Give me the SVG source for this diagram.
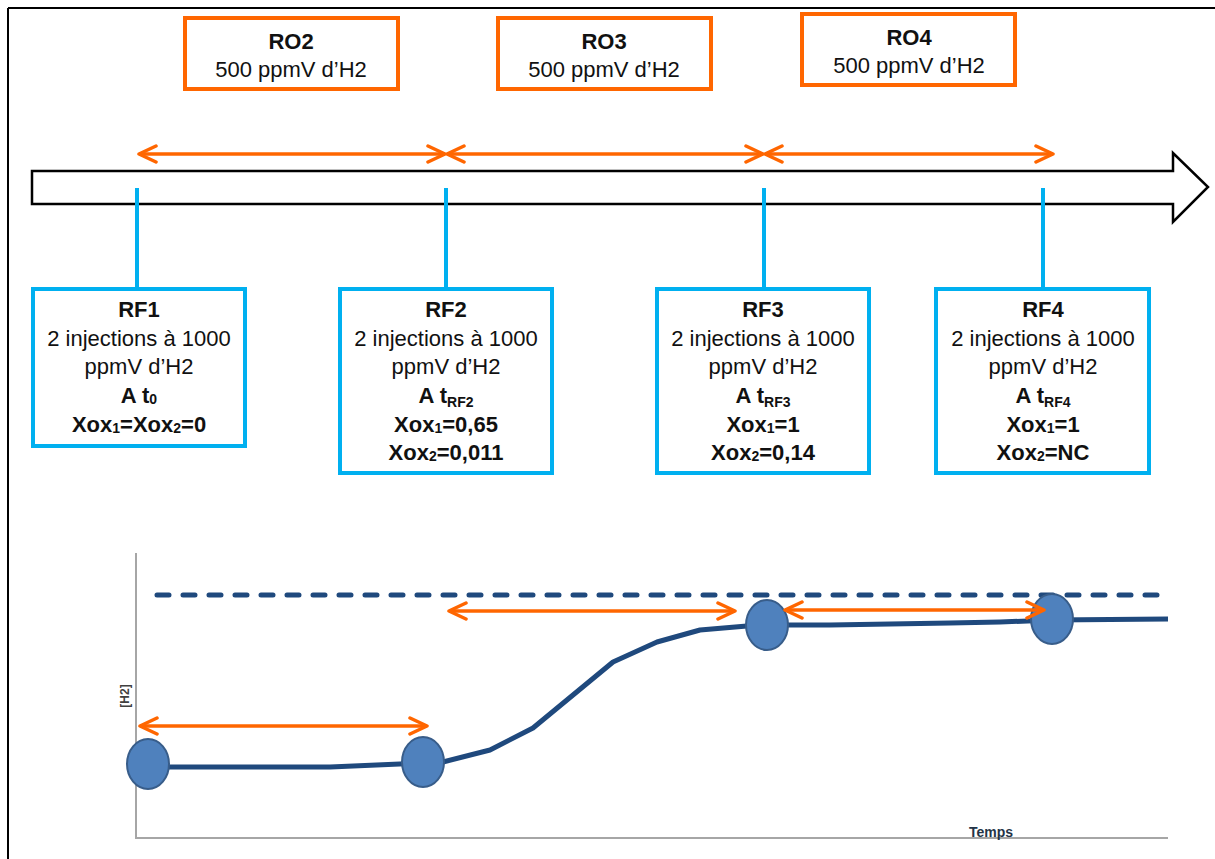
<svg xmlns="http://www.w3.org/2000/svg" width="1215" height="859" viewBox="0 0 1215 859">
<style>
  text { font-family: "Liberation Sans", Arial, sans-serif; fill: #111; text-anchor: middle; }
  .t { font-size: 22px; }
  .b { font-size: 22px; font-weight: bold; }
  .sub { font-size: 14px; }
  .ro { fill: #fff; stroke: #FF6600; stroke-width: 4; }
  .rf { fill: #fff; stroke: #00B0F0; stroke-width: 4; }
  .tick { stroke: #00B0F0; stroke-width: 4; fill: none; }
  .oarr { stroke: #FF6600; stroke-width: 3.5; fill: none; marker-start: url(#ah); marker-end: url(#ah); }
  .axis { stroke: #A6A6A6; stroke-width: 2; fill: none; }
  .dot { fill: #4F81BD; stroke: #385D8A; stroke-width: 2; }
</style>
<defs>
  <marker id="ah" viewBox="0 0 22 22" markerWidth="22" markerHeight="22" refX="20" refY="11" markerUnits="userSpaceOnUse" orient="auto-start-reverse">
    <path d="M3,3 L20,11 L3,19" fill="none" stroke="#FF6600" stroke-width="3.5" stroke-linecap="round" stroke-linejoin="round"/>
  </marker>
</defs>
<rect x="0" y="0" width="1215" height="859" fill="#fff"/>
<g id="frame">
  <line x1="8" y1="8" x2="1215" y2="8" stroke="#000" stroke-width="2"/>
  <line x1="8" y1="8" x2="8" y2="859" stroke="#000" stroke-width="2"/>
</g>
<g id="timeline">
  <path d="M32,171 L1173,171 L1173,153 L1208,187 L1173,222 L1173,204 L32,204 Z" fill="#fff" stroke="#000" stroke-width="2.5"/>
</g>
<g id="connectors">
  <line class="oarr" x1="139" y1="154" x2="445" y2="154"/>
  <line class="oarr" x1="447" y1="154" x2="763" y2="154"/>
  <line class="oarr" x1="765" y1="154" x2="1053" y2="154"/>
  <line class="tick" x1="137" y1="188" x2="137" y2="289"/>
  <line class="tick" x1="446" y1="188" x2="446" y2="289"/>
  <line class="tick" x1="764" y1="188" x2="764" y2="289"/>
  <line class="tick" x1="1043" y1="188" x2="1043" y2="289"/>
</g>
<g id="RO2">
  <rect class="ro" x="185" y="18" width="213" height="71"/>
  <text class="b" x="291" y="49">RO2</text>
  <text class="t" x="291" y="77">500 ppmV d’H2</text>
</g>
<g id="RO3">
  <rect class="ro" x="498" y="18" width="213" height="71"/>
  <text class="b" x="604" y="49">RO3</text>
  <text class="t" x="604" y="77">500 ppmV d’H2</text>
</g>
<g id="RO4">
  <rect class="ro" x="802" y="14" width="213" height="71"/>
  <text class="b" x="909" y="45">RO4</text>
  <text class="t" x="909" y="73">500 ppmV d’H2</text>
</g>
<g id="RF1">
  <rect class="rf" x="33" y="289" width="212" height="157"/>
  <text class="b" x="139" y="317">RF1</text>
  <text class="t" x="139" y="346">2 injections à 1000</text>
  <text class="t" x="139" y="374">ppmV d’H2</text>
  <text class="b" x="139" y="403">A t<tspan class="sub" dy="1">0</tspan></text>
  <text class="b" x="139" y="432">Xox<tspan class="sub" dy="1">1</tspan><tspan dy="-1">=Xox</tspan><tspan class="sub" dy="1">2</tspan><tspan dy="-1">=0</tspan></text>
</g>
<g id="RF2">
  <rect class="rf" x="340" y="289" width="212" height="184"/>
  <text class="b" x="446" y="317">RF2</text>
  <text class="t" x="446" y="346">2 injections à 1000</text>
  <text class="t" x="446" y="374">ppmV d’H2</text>
  <text class="b" x="446" y="403">A t<tspan class="sub" dy="4">RF2</tspan></text>
  <text class="b" x="446" y="432">Xox<tspan class="sub" dy="1">1</tspan><tspan dy="-1">=0,65</tspan></text>
  <text class="b" x="446" y="460">Xox<tspan class="sub" dy="1">2</tspan><tspan dy="-1">=0,011</tspan></text>
</g>
<g id="RF3">
  <rect class="rf" x="657" y="289" width="212" height="184"/>
  <text class="b" x="763" y="317">RF3</text>
  <text class="t" x="763" y="346">2 injections à 1000</text>
  <text class="t" x="763" y="374">ppmV d’H2</text>
  <text class="b" x="763" y="403">A t<tspan class="sub" dy="4">RF3</tspan></text>
  <text class="b" x="763" y="432">Xox<tspan class="sub" dy="1">1</tspan><tspan dy="-1">=1</tspan></text>
  <text class="b" x="763" y="460">Xox<tspan class="sub" dy="1">2</tspan><tspan dy="-1">=0,14</tspan></text>
</g>
<g id="RF4">
  <rect class="rf" x="936" y="289" width="213" height="184"/>
  <text class="b" x="1043" y="317">RF4</text>
  <text class="t" x="1043" y="346">2 injections à 1000</text>
  <text class="t" x="1043" y="374">ppmV d’H2</text>
  <text class="b" x="1043" y="403">A t<tspan class="sub" dy="4">RF4</tspan></text>
  <text class="b" x="1043" y="432">Xox<tspan class="sub" dy="1">1</tspan><tspan dy="-1">=1</tspan></text>
  <text class="b" x="1043" y="460">Xox<tspan class="sub" dy="1">2</tspan><tspan dy="-1">=NC</tspan></text>
</g>
<g id="chart">
  <line class="axis" x1="136" y1="553" x2="136" y2="838"/>
  <line class="axis" x1="135" y1="838" x2="1168" y2="838"/>
  <text x="0" y="0" transform="translate(129,696) rotate(-90)" style="font-size:12px;font-weight:bold;fill:#404040">[H2]</text>
  <text x="991" y="837" style="font-size:14px;font-weight:bold;fill:#243447">Temps</text>
  <line x1="157" y1="595" x2="1168" y2="595" stroke="#1F497D" stroke-width="5" stroke-linecap="round" stroke-dasharray="12 14"/>
  <path d="M148,767 L330,767 L423,763 L443,762 L490,750 L533,728 L573,695 L613,662 L657,642 L700,630 L747,626 L767,625 L830,625 L950,623 L1000,622 L1052,620 L1168,619" fill="none" stroke="#1F497D" stroke-width="5" stroke-linejoin="round"/>
  <ellipse class="dot" cx="148" cy="764" rx="21" ry="25"/>
  <ellipse class="dot" cx="423" cy="762" rx="21" ry="25"/>
  <ellipse class="dot" cx="767" cy="625" rx="21" ry="25"/>
  <ellipse class="dot" cx="1052" cy="619" rx="21" ry="25"/>
  <line class="oarr" x1="140" y1="726" x2="427" y2="726"/>
  <line class="oarr" x1="449" y1="611" x2="735" y2="611"/>
  <line class="oarr" x1="785" y1="610" x2="1044" y2="610"/>
</g>
</svg>
